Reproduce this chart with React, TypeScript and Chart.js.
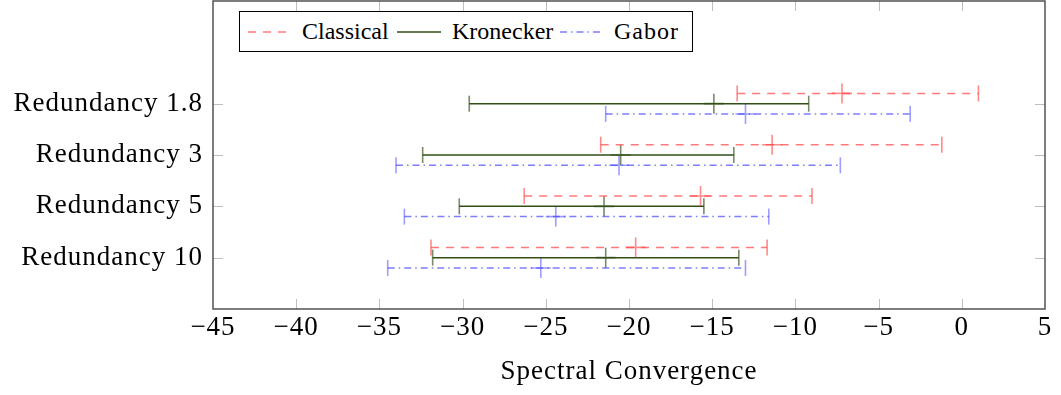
import React, { useEffect, useRef } from 'react';
import { Chart, registerables } from 'chart.js';

Chart.register(...registerables);

// ---------- data ----------
const categories = ['Redundancy 1.8', 'Redundancy 3', 'Redundancy 5', 'Redundancy 10'];

const classicalMin = [-13.5, -21.7, -26.3, -31.9];
const classicalMax = [1.0, -1.2, -9.0, -11.7];
const classicalMid = [-7.2, -11.4, -15.7, -19.6];

const kroneckerMin = [-29.6, -32.4, -30.2, -31.8];
const kroneckerMax = [-9.2, -13.7, -15.5, -13.4];
const kroneckerMid = [-14.9, -20.5, -21.5, -21.4];

const gaborMin = [-21.4, -34.0, -33.5, -34.5];
const gaborMax = [-3.1, -7.3, -11.6, -13.0];
const gaborMid = [-13.0, -20.6, -24.4, -25.3];

const xMin = -45;
const xMax = 5;
const xStep = 5;

const seriesNames = ['Classical', 'Kronecker', 'Gabor'];

// ---------- styles ----------
const FONT = '"Liberation Serif", "Times New Roman", serif';

const seriesStyles = [
  { color: 'rgba(255,70,70,0.72)', capColor: 'rgba(255,60,60,0.6)', dash: [8, 7], offset: 0.2 },
  { color: 'rgb(48,78,22)', capColor: 'rgba(48,78,22,0.65)', dash: [] as number[], offset: 0 },
  { color: 'rgba(70,70,255,0.7)', capColor: 'rgba(60,60,255,0.5)', dash: [7, 4, 1.5, 4], offset: -0.2 },
];

const seriesData = [
  { min: classicalMin, max: classicalMax, mid: classicalMid },
  { min: kroneckerMin, max: kroneckerMax, mid: kroneckerMid },
  { min: gaborMin, max: gaborMax, mid: gaborMid },
];

const framePlugin = {
  id: 'frameTicks',
  beforeDraw(chart: any) {
    try {
      chart.ctx.letterSpacing = '1px';
    } catch (e) {
      /* ignore */
    }
  },
  beforeDatasetsDraw(chart: any) {
    const { ctx, chartArea } = chart;
    const { left, right, top, bottom } = chartArea;
    const xs = chart.scales.x;
    const ys = chart.scales.y;
    ctx.save();
    ctx.strokeStyle = 'rgb(190,190,190)';
    ctx.lineWidth = 1;
    const tl = 10;
    xs.ticks.forEach((t: any) => {
      const px = Math.round(xs.getPixelForValue(t.value)) + 0.5;
      if (px <= left + 1 || px >= right - 1) return;
      ctx.beginPath();
      ctx.moveTo(px, bottom);
      ctx.lineTo(px, bottom - tl);
      ctx.moveTo(px, top);
      ctx.lineTo(px, top + tl);
      ctx.stroke();
    });
    ys.ticks.forEach((t: any) => {
      const py = Math.round(ys.getPixelForValue(t.value)) + 0.5;
      ctx.beginPath();
      ctx.moveTo(left, py);
      ctx.lineTo(left + tl, py);
      ctx.moveTo(right, py);
      ctx.lineTo(right - tl, py);
      ctx.stroke();
    });
    ctx.restore();
  },
  afterDatasetsDraw(chart: any) {
    const { ctx, chartArea } = chart;
    const { left, right, top, bottom } = chartArea;
    ctx.save();
    ctx.strokeStyle = 'rgb(70,70,70)';
    ctx.lineWidth = 1.4;
    ctx.strokeRect(left, top, right - left, bottom - top);
    ctx.restore();
  },
};

function LegendSample({ color, dash }: { color: string; dash: number[] }) {
  return (
    <svg width={44} height={6} style={{ display: 'block' }}>
      <line
        x1={0}
        y1={3}
        x2={44}
        y2={3}
        stroke={color}
        strokeWidth={1.5}
        strokeDasharray={dash.length ? dash.join(' ') : undefined}
      />
    </svg>
  );
}

export default function App() {
  const ref = useRef<HTMLCanvasElement>(null);

  useEffect(() => {
    if (!ref.current) return;
    const n = categories.length;
    const datasets: any[] = [];
    seriesData.forEach((s, k) => {
      const st = seriesStyles[k];
      categories.forEach((_, i) => {
        const y = n - 1 - i + st.offset;
        datasets.push({
          label: seriesNames[k],
          data: [
            { x: s.min[i], y },
            { x: s.max[i], y },
          ],
          showLine: true,
          borderColor: st.color,
          borderWidth: 1.5,
          borderDash: st.dash,
          pointStyle: 'line',
          pointRotation: 90,
          pointRadius: 8,
          pointHoverRadius: 8,
          pointBorderColor: st.capColor,
          pointBorderWidth: 1.6,
        });
      });
      datasets.push({
        label: seriesNames[k],
        data: s.mid.map((v, i) => ({ x: v, y: n - 1 - i + st.offset })),
        showLine: false,
        pointStyle: 'cross',
        pointRadius: 10,
        pointHoverRadius: 10,
        pointBorderColor: st.capColor,
        pointBorderWidth: 1.6,
      });
    });

    const chart = new Chart(ref.current, {
      type: 'scatter',
      data: { datasets },
      options: {
        animation: false,
        responsive: false,
        devicePixelRatio: 1,
        layout: { autoPadding: false, padding: { top: 1, right: 16, left: 0, bottom: 0 } },
        plugins: { legend: { display: false }, tooltip: { enabled: false } },
        events: [],
        scales: {
          x: {
            type: 'linear',
            min: xMin,
            max: xMax,
            ticks: {
              stepSize: xStep,
              color: '#000',
              padding: 3,
              font: { family: FONT, size: 27 },
              callback: (v: any) => (Number(v) < 0 ? '\u2212' + Math.abs(Number(v)) : String(v)),
            },
            grid: { display: false, drawTicks: false },
            border: { display: false },
            title: {
              display: true,
              text: 'Spectral Convergence',
              color: '#000',
              font: { family: FONT, size: 27 },
              padding: { top: 0, bottom: 7 },
            },
            afterFit: (scale: any) => {
              scale.height = 86;
              scale.paddingLeft = 0;
              scale.paddingRight = 0;
              scale.paddingTop = 0;
              scale.paddingBottom = 0;
            },
          },
          y: {
            type: 'linear',
            min: -1,
            max: 5,
            afterBuildTicks: (scale: any) => {
              scale.ticks = categories.map((_, i) => ({ value: i }));
            },
            ticks: {
              color: '#000',
              padding: 10,
              font: { family: FONT, size: 27 },
              callback: (v: any) => categories[n - 1 - Number(v)] ?? '',
            },
            grid: { display: false, drawTicks: false },
            border: { display: false },
            afterFit: (scale: any) => {
              scale.width = 213;
              scale.paddingLeft = 0;
              scale.paddingRight = 0;
              scale.paddingTop = 0;
              scale.paddingBottom = 0;
            },
          },
        },
      },
      plugins: [framePlugin],
    } as any);

    return () => chart.destroy();
  }, []);

  const legendItems = [
    { sampleLeft: 8, textLeft: 62 },
    { sampleLeft: 157, textLeft: 212 },
    { sampleLeft: 320, textLeft: 374 },
  ];

  return (
    <div style={{ position: 'fixed', left: 0, top: 0, width: 1061, height: 395, background: '#fff' }}>
      <canvas ref={ref} width={1061} height={395} style={{ display: 'block', width: 1061, height: 395 }} />
      <div
        style={{
          position: 'absolute',
          left: 239,
          top: 11,
          width: 452,
          height: 39,
          border: '1px solid #000',
          background: '#fff',
          fontFamily: FONT,
          fontSize: 24,
          color: '#000',
        }}
      >
        {seriesNames.map((name, k) => (
          <React.Fragment key={name}>
            <div style={{ position: 'absolute', left: legendItems[k].sampleLeft, top: 17 }}>
              <LegendSample color={seriesStyles[k].color} dash={seriesStyles[k].dash} />
            </div>
            <div
              style={{
                position: 'absolute',
                left: legendItems[k].textLeft,
                top: 0,
                height: 39,
                lineHeight: '39px',
                whiteSpace: 'nowrap',
                letterSpacing: k === 2 ? '1px' : '0px',
              }}
            >
              {name}
            </div>
          </React.Fragment>
        ))}
      </div>
    </div>
  );
}
